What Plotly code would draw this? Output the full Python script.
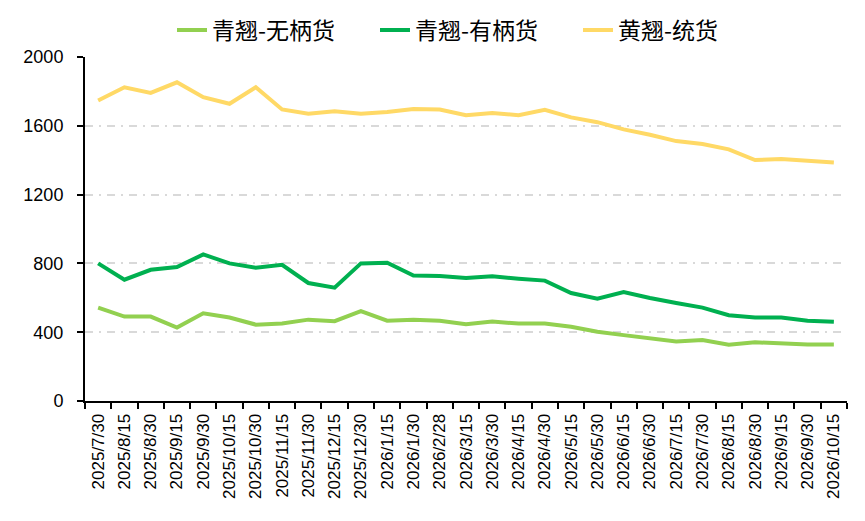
import plotly.graph_objects as go

dates = ["2025/7/30", "2025/8/15", "2025/8/30", "2025/9/15", "2025/9/30", "2025/10/15",
         "2025/10/30", "2025/11/15", "2025/11/30", "2025/12/15", "2025/12/30", "2026/1/15",
         "2026/1/30", "2026/2/28", "2026/3/15", "2026/3/30", "2026/4/15", "2026/4/30",
         "2026/5/15", "2026/5/30", "2026/6/15", "2026/6/30", "2026/7/15", "2026/7/30",
         "2026/8/15", "2026/8/30", "2026/9/15", "2026/9/30", "2026/10/15"]

qing_wubing = [543, 491, 491, 427, 510, 485, 444, 450, 473, 464, 522, 467, 472, 467,
               446, 462, 450, 450, 432, 403, 383, 364, 346, 354, 327, 341, 335, 329, 329]

qing_youbing = [800, 705, 763, 779, 852, 800, 775, 792, 686, 659, 800, 804, 730, 727,
                715, 725, 711, 700, 628, 595, 634, 599, 570, 543, 499, 485, 485, 467, 461]

huang_tong = [1747, 1824, 1791, 1853, 1766, 1728, 1824, 1695, 1670, 1685, 1670, 1680, 1697, 1695,
              1662, 1674, 1662, 1693, 1649, 1621, 1579, 1548, 1511, 1494, 1463, 1401, 1407, 1397, 1386]

series = [("青翘-无柄货", qing_wubing, "#92D050"),
          ("青翘-有柄货", qing_youbing, "#00B050"),
          ("黄翘-统货", huang_tong, "#FFD966")]

fig = go.Figure()
for name, vals, color in series:
    fig.add_trace(go.Scatter(x=dates, y=vals, name=name, mode="lines",
                             line=dict(color=color, width=4)))

fig.update_layout(
    width=865, height=521,
    margin=dict(l=85, r=18, t=57, b=120, autoexpand=False),
    paper_bgcolor="white", plot_bgcolor="white",
    font=dict(family="Noto Sans CJK SC, Liberation Sans", color="#000000"),
    showlegend=True,
    legend=dict(orientation="h", xref="container", yref="container",
                x=172 / 865, xanchor="left", y=1 - 30 / 521, yanchor="middle",
                font=dict(size=23, family="Noto Sans CJK SC"),
                itemwidth=30, tracegroupgap=0,
                entrywidth=158, entrywidthmode="pixels"),
)
fig.update_xaxes(
    type="category", range=[-0.5, len(dates) - 0.5],
    showline=True, linecolor="black", linewidth=2,
    ticks="outside", tickson="boundaries", ticklen=6, tickwidth=2, tickcolor="black",
    tickangle=-90, tickfont=dict(size=17, family="Liberation Sans"),
    ticklabelstandoff=4,
    showgrid=False, zeroline=False,
)
fig.update_yaxes(
    range=[0, 2000], tickvals=[0, 400, 800, 1200, 1600, 2000],
    showline=True, linecolor="black", linewidth=2,
    ticks="outside", ticklen=6, tickwidth=2, tickcolor="black",
    tickfont=dict(size=18, family="Liberation Sans"),
    ticklabelstandoff=10,
    showgrid=True, gridcolor="#D9D9D9", gridwidth=1.5, griddash="8px,6px,2px,6px",
    zeroline=False,
)

fig.write_html("out.html")
